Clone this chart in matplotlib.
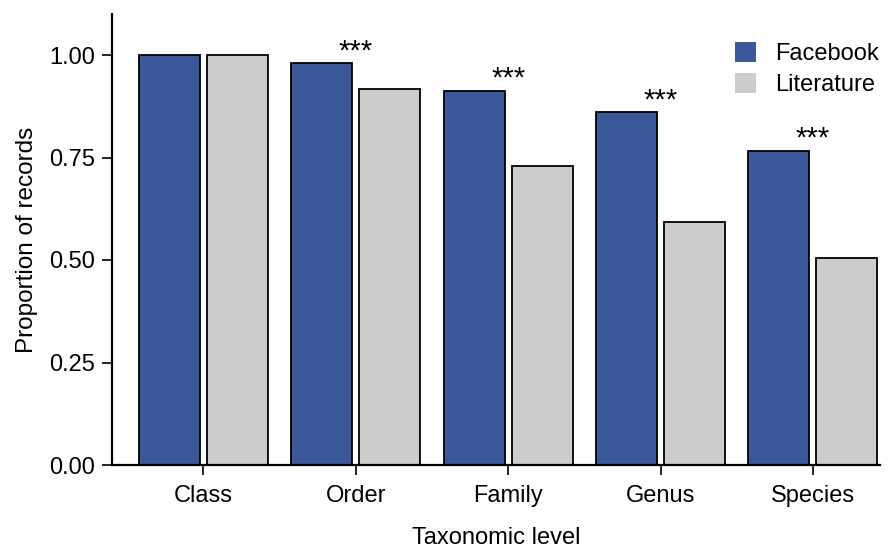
import matplotlib
matplotlib.use("Agg")
import matplotlib.pyplot as plt
import numpy as np
from matplotlib.patches import Patch

plt.rcParams['font.family'] = ['Liberation Sans', 'DejaVu Sans']

levels = ["Class", "Order", "Family", "Genus", "Species"]
facebook = [1.00, 0.980, 0.913, 0.860, 0.767]
literature = [1.00, 0.918, 0.730, 0.593, 0.505]
significance = ["", "***", "***", "***", "***"]
yticks = [0.00, 0.25, 0.50, 0.75, 1.00]
ytick_labels = ["0.00", "0.25", "0.50", "0.75", "1.00"]

fb_color = "#3b5998"
lit_color = "#cccccc"
fs = 17

fig = plt.figure(figsize=(8.92, 5.48), dpi=100)
ax = fig.add_axes([112/892, 1-465/548, (880-112)/892, (465-14)/548])

x = np.arange(len(levels))
w = 0.40
off = 0.223
ax.bar(x - off, facebook, width=w, color=fb_color, edgecolor="black", linewidth=1.3, zorder=2)
ax.bar(x + off, literature, width=w, color=lit_color, edgecolor="black", linewidth=1.3, zorder=2)

for xi, fv, s in zip(x, facebook, significance):
    if s:
        ax.text(xi, fv - 0.005, s, ha="center", va="bottom", fontsize=21)

ax.set_xlim(-0.60, 4.44)
ax.set_ylim(0, 1.10)
ax.set_xticks(x)
ax.set_xticklabels(levels)
ax.set_yticks(yticks)
ax.set_yticklabels(ytick_labels)
ax.tick_params(axis="both", labelsize=fs, length=7.5, width=1.2, direction="out")
ax.tick_params(axis="x", pad=7)
ax.tick_params(axis="y", pad=5)

for side in ["top", "right"]:
    ax.spines[side].set_visible(False)
for side in ["left", "bottom"]:
    ax.spines[side].set_linewidth(1.6)

ax.set_xlabel("Taxonomic level", fontsize=fs, labelpad=14)
ax.set_ylabel("Proportion of records", fontsize=17.5, labelpad=8)

handles = [Patch(facecolor=fb_color, edgecolor="none", label="Facebook"),
           Patch(facecolor=lit_color, edgecolor="none", label="Literature")]
ax.legend(handles=handles, loc="upper right", bbox_to_anchor=(1.026, 0.985), frameon=False,
          fontsize=fs, handlelength=0.9, handleheight=0.9, handletextpad=0.8, labelspacing=0.35)

fig.savefig("out.png", dpi=100)
